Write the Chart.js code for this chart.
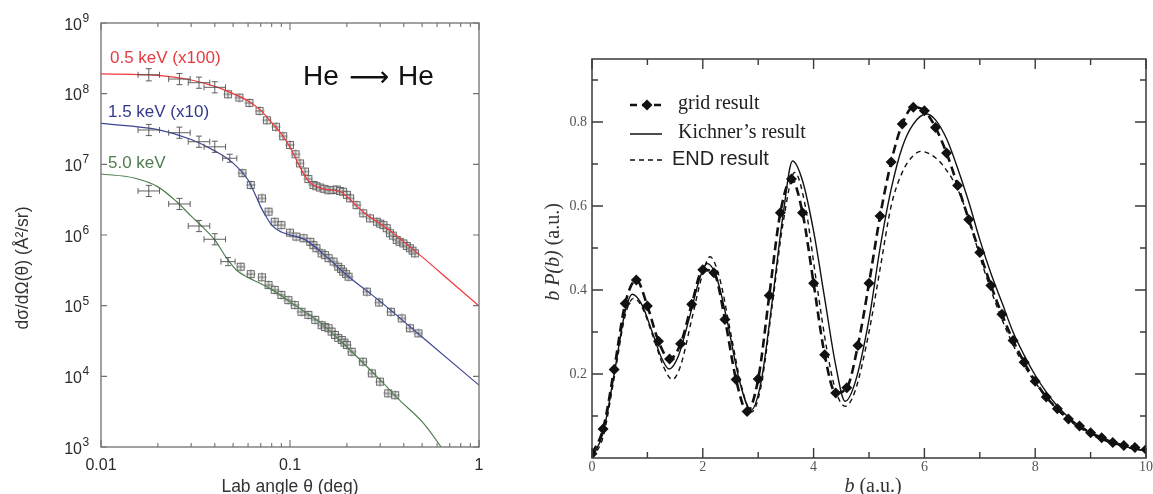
<!DOCTYPE html>
<html><head><meta charset="utf-8">
<script src="https://cdn.jsdelivr.net/npm/chart.js@4/dist/chart.umd.min.js"></script>
<style>
html,body{margin:0;padding:0;background:#fff;}
#wrap{position:relative;width:1153px;height:494px;overflow:hidden;background:#fff;}
#c1{position:absolute;left:0;top:0;}
#c2{position:absolute;left:530px;top:0;}
</style></head><body>
<div id="wrap">
<canvas id="c1" width="490" height="494"></canvas>
<canvas id="c2" width="623" height="494"></canvas>
</div>
<script>
// ================= LEFT PANEL DATA (He -> He cross sections) =================
const xTickMajorL = [0.01, 0.1, 1];
const xTickMinorL = [0.02,0.03,0.04,0.05,0.06,0.07,0.08,0.09,0.2,0.3,0.4,0.5,0.6,0.7,0.8,0.9];
const xTickLabelsL = ["0.01", "0.1", "1"];
const yTickMajorL = [1e3,1e4,1e5,1e6,1e7,1e8,1e9];
const yTickExpL = ["3","4","5","6","7","8","9"];

const redCurveAngle = [0.01,0.02,0.03,0.04,0.05,0.06,0.07,0.08,0.09,0.1,0.11,0.12,0.13,0.15,0.17,0.185,0.2,0.22,0.25,0.3,0.35,0.4,0.5,0.7,1.0];
const redCurveValue = [1.9e8,1.82e8,1.56e8,1.27e8,1.0e8,7.9e7,5.8e7,3.9e7,2.7e7,1.75e7,1.05e7,6.8e6,5.3e6,4.5e6,4.3e6,4.1e6,3.5e6,2.75e6,2.0e6,1.45e6,1.08e6,8.0e5,4.9e5,2.25e5,9.9e4];
const blueCurveAngle = [0.01,0.02,0.03,0.04,0.05,0.06,0.065,0.07,0.075,0.08,0.09,0.1,0.12,0.15,0.2,0.3,0.5,1.0];
const blueCurveValue = [3.8e7,3.1e7,2.25e7,1.55e7,1.04e7,6.0e6,3.9e6,2.5e6,1.8e6,1.38e6,1.1e6,1.0e6,8.6e5,5.4e5,2.7e5,1.15e5,3.6e4,7.5e3];
const greenCurveAngle = [0.01,0.015,0.02,0.025,0.03,0.035,0.04,0.046,0.052,0.06,0.07,0.08,0.1,0.15,0.2,0.3,0.38,0.5,0.63,0.7];
const greenCurveValue = [7.3e6,6.4e6,4.8e6,3.0e6,1.85e6,1.25e6,8.5e5,4.8e5,3.2e5,2.5e5,2.05e5,1.7e5,1.14e5,5.3e4,2.6e4,8.9e3,4.6e3,2.28e3,1.0e3,6.5e2];

// experimental points with explicit error bars
const redErrAngle = [0.0179,0.026,0.033,0.040];
const redErrValue = [1.85e8,1.61e8,1.43e8,1.23e8];
const redErrX = [1.14,1.14,1.14,1.14];
const redErrY = [1.22,1.2,1.2,1.2];
const blueErrAngle = [0.0179,0.026,0.033,0.040,0.048];
const blueErrValue = [3.06e7,2.8e7,2.09e7,1.77e7,1.22e7];
const blueErrX = [1.14,1.14,1.14,1.14,1.09];
const blueErrY = [1.2,1.2,1.2,1.2,1.14];
const greenErrAngle = [0.0179,0.026,0.033,0.040,0.047];
const greenErrValue = [4.2e6,2.75e6,1.34e6,8.7e5,4.2e5];
const greenErrX = [1.14,1.14,1.14,1.14,1.09];
const greenErrY = [1.2,1.2,1.2,1.2,1.14];

// experimental points (square markers)
const redPtAngle = [0.047,0.054,0.061,0.069,0.0755,0.0843,0.092,0.1,0.107,0.113,0.12,0.125,0.133,0.138,0.144,0.152,0.16,0.17,0.177,0.184,0.191,0.2,0.208,0.225,0.244,0.265,0.288,0.3,0.312,0.325,0.338,0.35,0.367,0.38,0.398,0.415,0.431,0.445,0.458];
const redPtValue = [9.8e7,8.8e7,7.4e7,5.7e7,4.2e7,3.4e7,2.5e7,1.88e7,1.39e7,1.03e7,7.9e6,6.2e6,5.1e6,4.9e6,4.7e6,4.5e6,4.3e6,4.35e6,4.4e6,4.2e6,4.1e6,3.7e6,3.3e6,2.65e6,2.03e6,1.72e6,1.54e6,1.45e6,1.38e6,1.25e6,1.06e6,9.8e5,8.5e5,8.0e5,7.6e5,7.0e5,6.5e5,6.0e5,5.5e5];
const bluePtAngle = [0.056,0.062,0.071,0.077,0.083,0.090,0.1,0.108,0.118,0.128,0.133,0.138,0.147,0.153,0.16,0.17,0.18,0.186,0.191,0.198,0.204,0.255,0.296,0.342,0.39,0.431,0.478];
const bluePtValue = [7.5e6,5.1e6,3.3e6,2.14e6,1.54e6,1.38e6,1.08e6,9.5e5,9.0e5,8.0e5,7.2e5,6.5e5,5.5e5,5.2e5,4.7e5,4.2e5,3.56e5,3.3e5,3.03e5,2.8e5,2.57e5,1.58e5,1.11e5,8.2e4,6.6e4,4.8e4,4.06e4];
const greenPtAngle = [0.0548,0.062,0.071,0.077,0.083,0.090,0.098,0.106,0.115,0.125,0.136,0.147,0.153,0.16,0.166,0.173,0.18,0.188,0.194,0.2,0.212,0.243,0.271,0.299,0.331,0.36];
const greenPtValue = [3.56e5,2.8e5,2.52e5,1.96e5,1.67e5,1.42e5,1.2e5,1.02e5,8.2e4,7.4e4,6.3e4,5.3e4,5.0e4,4.8e4,4.3e4,3.85e4,3.5e4,3.27e4,3.0e4,2.78e4,2.23e4,1.61e4,1.1e4,8.4e3,5.75e3,5.4e3];

// ================= RIGHT PANEL DATA (b P(b)) =================
const xTickMajorR = [0,2,4,6,8,10];
const xTickMinorR = [1,3,5,7,9];
const yTickMajorR = [0.2,0.4,0.6,0.8];
const yTickMinorR = [0.1,0.3,0.5,0.7,0.9];
const xTickLabelsR = ["0","2","4","6","8","10"];
const yTickLabelsR = ["0.2","0.4","0.6","0.8"];

const gridB = [0,0.2,0.4,0.6,0.8,1.0,1.2,1.4,1.6,1.8,2.0,2.2,2.4,2.6,2.8,3.0,3.2,3.4,3.6,3.8,4.0,4.2,4.4,4.6,4.8,5.0,5.2,5.4,5.6,5.8,6.0,6.2,6.4,6.6,6.8,7.0,7.2,7.4,7.6,7.8,8.0,8.2,8.4,8.6,8.8,9.0,9.2,9.4,9.6,9.8,10.0];
const gridP = [0.01,0.069,0.211,0.368,0.424,0.362,0.278,0.236,0.272,0.366,0.448,0.441,0.330,0.187,0.111,0.188,0.387,0.584,0.664,0.584,0.416,0.246,0.155,0.167,0.268,0.416,0.576,0.705,0.795,0.835,0.827,0.787,0.726,0.649,0.568,0.489,0.411,0.342,0.280,0.228,0.183,0.145,0.117,0.093,0.076,0.060,0.048,0.037,0.030,0.025,0.020];

const kichB = [0,0.2,0.4,0.6,0.73,0.9,1.1,1.25,1.39,1.55,1.75,1.95,2.08,2.25,2.45,2.65,2.87,3.05,3.25,3.45,3.62,3.8,4.0,4.2,4.4,4.57,4.75,5.0,5.2,5.4,5.6,5.8,6.04,6.2,6.4,6.6,6.8,7.0,7.2,7.4,7.6,7.8,8.0,8.2,8.4,8.6,8.8,9.0,9.2,9.4,9.6,9.8,10];
const kichP = [0,0.06,0.2,0.35,0.39,0.365,0.295,0.24,0.212,0.24,0.33,0.43,0.463,0.43,0.32,0.19,0.114,0.18,0.37,0.58,0.707,0.66,0.54,0.38,0.22,0.135,0.18,0.33,0.5,0.64,0.74,0.795,0.819,0.805,0.76,0.69,0.61,0.52,0.44,0.37,0.30,0.245,0.197,0.157,0.124,0.097,0.076,0.059,0.046,0.036,0.028,0.022,0.018];

const endB = [0,0.2,0.4,0.6,0.75,0.9,1.1,1.3,1.45,1.6,1.8,2.0,2.13,2.3,2.5,2.7,2.88,3.05,3.25,3.45,3.66,3.85,4.05,4.25,4.4,4.57,4.75,5.0,5.2,5.4,5.6,5.8,5.94,6.2,6.4,6.6,6.8,7.0,7.2,7.4,7.6,7.8,8.0,8.2,8.4,8.6,8.8,9.0,9.2,9.4,9.6,9.8,10];
const endP = [0,0.05,0.19,0.34,0.38,0.36,0.29,0.215,0.187,0.22,0.33,0.44,0.479,0.43,0.30,0.17,0.11,0.17,0.36,0.56,0.68,0.60,0.42,0.25,0.16,0.123,0.16,0.30,0.45,0.60,0.68,0.72,0.73,0.715,0.685,0.64,0.57,0.48,0.40,0.33,0.27,0.22,0.18,0.145,0.115,0.091,0.072,0.056,0.044,0.034,0.027,0.021,0.017];

// ================= helpers =================
const pts = (xs, ys) => xs.map((x, i) => ({x: x, y: ys[i]}));
function squareMarker(){
  const c = document.createElement('canvas'); c.width = 10; c.height = 10;
  const g = c.getContext('2d');
  g.fillStyle = 'rgba(225,225,225,0.6)';
  g.fillRect(1.5,1.5,7,7);
  g.strokeStyle = 'rgba(95,95,95,0.9)'; g.lineWidth = 1;
  g.strokeRect(1.5,1.5,7,7);
  g.beginPath(); g.moveTo(5,0.5); g.lineTo(5,9.5); g.moveTo(0.5,5); g.lineTo(9.5,5); g.stroke();
  return c;
}
const sq = squareMarker();
const SANS = '"Liberation Sans", Arial, sans-serif';
const SERIF = '"Liberation Serif", "Times New Roman", serif';

// ================= LEFT CHART =================
const errSets = [
  [redErrAngle, redErrValue, redErrX, redErrY],
  [blueErrAngle, blueErrValue, blueErrX, blueErrY],
  [greenErrAngle, greenErrValue, greenErrX, greenErrY]
];
const leftDecor = {
  id: 'leftDecor',
  afterDatasetsDraw(chart){
    const ctx = chart.ctx, a = chart.chartArea, xs = chart.scales.x, ys = chart.scales.y;
    ctx.save();
    // error bars
    ctx.strokeStyle = 'rgba(80,80,80,0.9)'; ctx.lineWidth = 1;
    errSets.forEach(([ang, val, ex, ey]) => {
      ang.forEach((t, i) => {
        const px = xs.getPixelForValue(t), py = ys.getPixelForValue(val[i]);
        const x0 = xs.getPixelForValue(t / ex[i]), x1 = xs.getPixelForValue(t * ex[i]);
        const y0 = ys.getPixelForValue(val[i] / ey[i]), y1 = ys.getPixelForValue(val[i] * ey[i]);
        ctx.beginPath();
        ctx.moveTo(x0, py); ctx.lineTo(x1, py);
        ctx.moveTo(x0, py - 3); ctx.lineTo(x0, py + 3);
        ctx.moveTo(x1, py - 3); ctx.lineTo(x1, py + 3);
        ctx.moveTo(px, y0); ctx.lineTo(px, y1);
        ctx.moveTo(px - 3, y0); ctx.lineTo(px + 3, y0);
        ctx.moveTo(px - 3, y1); ctx.lineTo(px + 3, y1);
        ctx.stroke();
      });
    });
    // frame
    ctx.strokeStyle = '#707070'; ctx.lineWidth = 1.3;
    ctx.strokeRect(a.left, a.top, a.right - a.left, a.bottom - a.top);
    // ticks
    ctx.lineWidth = 1.1; ctx.beginPath();
    const tx = (v, len) => { const p = xs.getPixelForValue(v);
      ctx.moveTo(p, a.bottom); ctx.lineTo(p, a.bottom - len);
      ctx.moveTo(p, a.top); ctx.lineTo(p, a.top + len); };
    xTickMajorL.forEach(v => tx(v, 7));
    xTickMinorL.forEach(v => tx(v, 4));
    yTickMajorL.forEach(v => { const p = ys.getPixelForValue(v);
      ctx.moveTo(a.left, p); ctx.lineTo(a.left + 6, p);
      ctx.moveTo(a.right, p); ctx.lineTo(a.right - 6, p); });
    ctx.stroke();
    // tick labels
    ctx.fillStyle = '#2a2a2a';
    ctx.font = '16px ' + SANS; ctx.textAlign = 'center'; ctx.textBaseline = 'middle';
    xTickMajorL.forEach((v, i) => ctx.fillText(xTickLabelsL[i], xs.getPixelForValue(v), 466));
    yTickMajorL.forEach((v, i) => {
      const p = ys.getPixelForValue(v);
      ctx.textBaseline = 'alphabetic';
      ctx.textAlign = 'right'; ctx.font = '16px ' + SANS;
      ctx.fillText('10', 82, p + 6.5);
      ctx.textAlign = 'left'; ctx.font = '12px ' + SANS;
      ctx.fillText(yTickExpL[i], 82.5, p - 1);
    });
    // axis titles
    ctx.fillStyle = '#333';
    ctx.font = '17.5px ' + SANS; ctx.textAlign = 'center'; ctx.textBaseline = 'alphabetic';
    ctx.fillText('Lab angle \u03b8 (deg)', 290, 492);
    ctx.save(); ctx.translate(28, 268); ctx.rotate(-Math.PI / 2);
    ctx.fillText('d\u03c3/d\u03a9(\u03b8) (\u00c5\u00b2/sr)', 0, 0);
    ctx.restore();
    // series labels
    ctx.textAlign = 'left'; ctx.font = '17px ' + SANS;
    ctx.fillStyle = '#e53b40'; ctx.fillText('0.5 keV (x100)', 110, 63);
    ctx.fillStyle = '#33398a'; ctx.fillText('1.5 keV (x10)', 108, 117);
    ctx.fillStyle = '#4f7d4f'; ctx.fillText('5.0 keV', 108, 168);
    // He -> He
    ctx.fillStyle = '#111'; ctx.font = '28px ' + SANS;
    ctx.fillText('He', 303, 85);
    ctx.fillText('He', 398, 85);
    ctx.textAlign = 'center'; ctx.font = '28px "DejaVu Sans", sans-serif';
    ctx.fillText('\u27f6', 369, 86);
    ctx.restore();
  }
};

new Chart(document.getElementById('c1'), {
  type: 'line',
  data: { datasets: [
    {data: pts(redCurveAngle, redCurveValue), borderColor: '#f0383a', borderWidth: 1.2, pointRadius: 0, cubicInterpolationMode: 'monotone', order: 0},
    {data: pts(blueCurveAngle, blueCurveValue), borderColor: '#3b4594', borderWidth: 1.2, pointRadius: 0, cubicInterpolationMode: 'monotone', order: 0},
    {data: pts(greenCurveAngle, greenCurveValue), borderColor: '#4f8050', borderWidth: 1.2, pointRadius: 0, cubicInterpolationMode: 'monotone', order: 0},
    {data: pts(redPtAngle, redPtValue), showLine: false, pointStyle: sq, pointRadius: 4, order: 1},
    {data: pts(bluePtAngle, bluePtValue), showLine: false, pointStyle: sq, pointRadius: 4, order: 1},
    {data: pts(greenPtAngle, greenPtValue), showLine: false, pointStyle: sq, pointRadius: 4, order: 1}
  ]},
  options: {
    responsive: false, animation: false, events: [],
    layout: {padding: {top: 23, right: 11, left: 0, bottom: 0}},
    plugins: {legend: {display: false}, tooltip: {enabled: false}},
    scales: {
      x: {type: 'logarithmic', min: 0.01, max: 1, grid: {display: false}, border: {display: false},
          ticks: {display: false}, afterFit(s){ s.height = 47; }},
      y: {type: 'logarithmic', min: 1e3, max: 1e9, grid: {display: false}, border: {display: false},
          ticks: {display: false}, afterFit(s){ s.width = 101; }}
    }
  },
  plugins: [leftDecor]
});

// ================= RIGHT CHART =================
const OX = 530;
const rightDecor = {
  id: 'rightDecor',
  afterDatasetsDraw(chart){
    const ctx = chart.ctx, a = chart.chartArea, xs = chart.scales.x, ys = chart.scales.y;
    ctx.save();
    ctx.strokeStyle = '#3a3a3a'; ctx.lineWidth = 1.5;
    ctx.strokeRect(a.left, a.top, a.right - a.left, a.bottom - a.top);
    ctx.lineWidth = 1.4; ctx.beginPath();
    const tx = (v, len) => { const p = xs.getPixelForValue(v);
      ctx.moveTo(p, a.bottom); ctx.lineTo(p, a.bottom - len);
      ctx.moveTo(p, a.top); ctx.lineTo(p, a.top + len); };
    const ty = (v, len) => { const p = ys.getPixelForValue(v);
      ctx.moveTo(a.left, p); ctx.lineTo(a.left + len, p);
      ctx.moveTo(a.right, p); ctx.lineTo(a.right - len, p); };
    xTickMajorR.forEach(v => tx(v, 10));
    xTickMinorR.forEach(v => tx(v, 6));
    yTickMajorR.forEach(v => ty(v, 11));
    yTickMinorR.forEach(v => ty(v, 6));
    ctx.stroke();
    // tick labels
    ctx.fillStyle = '#555'; ctx.font = '14px ' + SERIF;
    ctx.textAlign = 'center'; ctx.textBaseline = 'middle';
    xTickMajorR.forEach((v, i) => ctx.fillText(xTickLabelsR[i], xs.getPixelForValue(v), 467));
    ctx.textAlign = 'right';
    yTickMajorR.forEach((v, i) => ctx.fillText(yTickLabelsR[i], a.left - 5, ys.getPixelForValue(v)));
    // titles
    ctx.fillStyle = '#333'; ctx.textBaseline = 'alphabetic'; ctx.textAlign = 'left';
    const drawParts = (parts, cx, cy) => {
      let w = 0;
      parts.forEach(p => { ctx.font = p[1]; w += ctx.measureText(p[0]).width; });
      let x = cx - w / 2;
      parts.forEach(p => { ctx.font = p[1]; ctx.fillText(p[0], x, cy); x += ctx.measureText(p[0]).width; });
    };
    drawParts([['b', 'italic 20px ' + SERIF], [' (a.u.)', '20px ' + SERIF]], 873 - OX, 492);
    ctx.save(); ctx.translate(559 - OX, 252); ctx.rotate(-Math.PI / 2);
    drawParts([['b P(b)', 'italic 20px ' + SERIF], [' (a.u.)', '20px ' + SERIF]], 0, 0);
    ctx.restore();
    // legend
    ctx.strokeStyle = '#111'; ctx.fillStyle = '#111';
    ctx.lineWidth = 2.5; ctx.setLineDash([7, 5]);
    ctx.beginPath(); ctx.moveTo(630 - OX, 105); ctx.lineTo(665 - OX, 105); ctx.stroke();
    ctx.setLineDash([]);
    ctx.beginPath(); const dx = 647 - OX;
    ctx.moveTo(dx, 99.5); ctx.lineTo(dx + 5.5, 105); ctx.lineTo(dx, 110.5); ctx.lineTo(dx - 5.5, 105); ctx.closePath(); ctx.fill();
    ctx.lineWidth = 1.5;
    ctx.beginPath(); ctx.moveTo(630 - OX, 134); ctx.lineTo(662 - OX, 134); ctx.stroke();
    ctx.setLineDash([5, 4]);
    ctx.beginPath(); ctx.moveTo(630 - OX, 160); ctx.lineTo(662 - OX, 160); ctx.stroke();
    ctx.setLineDash([]);
    ctx.fillStyle = '#222'; ctx.textBaseline = 'middle'; ctx.textAlign = 'left';
    ctx.font = '20px ' + SERIF;
    ctx.fillText('grid result', 678 - OX, 104);
    ctx.fillText('Kichner\u2019s result', 678 - OX, 133);
    ctx.font = '20px ' + SANS;
    ctx.fillText('END result', 672 - OX, 159);
    ctx.restore();
  }
};

new Chart(document.getElementById('c2'), {
  type: 'line',
  data: { datasets: [
    {data: pts(gridB, gridP), borderColor: '#111', borderWidth: 2.6, borderDash: [9, 5],
     pointStyle: 'rectRot', pointRadius: 5.5, pointBackgroundColor: '#111', pointBorderWidth: 0,
     cubicInterpolationMode: 'monotone', order: 0},
    {data: pts(kichB, kichP), borderColor: '#111', borderWidth: 1.4, pointRadius: 0,
     cubicInterpolationMode: 'monotone', order: 1},
    {data: pts(endB, endP), borderColor: '#111', borderWidth: 1.4, borderDash: [5, 4], pointRadius: 0,
     cubicInterpolationMode: 'monotone', order: 2}
  ]},
  options: {
    responsive: false, animation: false, events: [],
    layout: {padding: {top: 59, right: 7, left: 0, bottom: 0}},
    plugins: {legend: {display: false}, tooltip: {enabled: false}},
    scales: {
      x: {type: 'linear', min: 0, max: 10, grid: {display: false}, border: {display: false},
          ticks: {display: false}, afterFit(s){ s.height = 36; }},
      y: {type: 'linear', min: 0, max: 0.95, grid: {display: false}, border: {display: false},
          ticks: {display: false}, afterFit(s){ s.width = 62; }}
    }
  },
  plugins: [rightDecor]
});
</script>
</body></html>
